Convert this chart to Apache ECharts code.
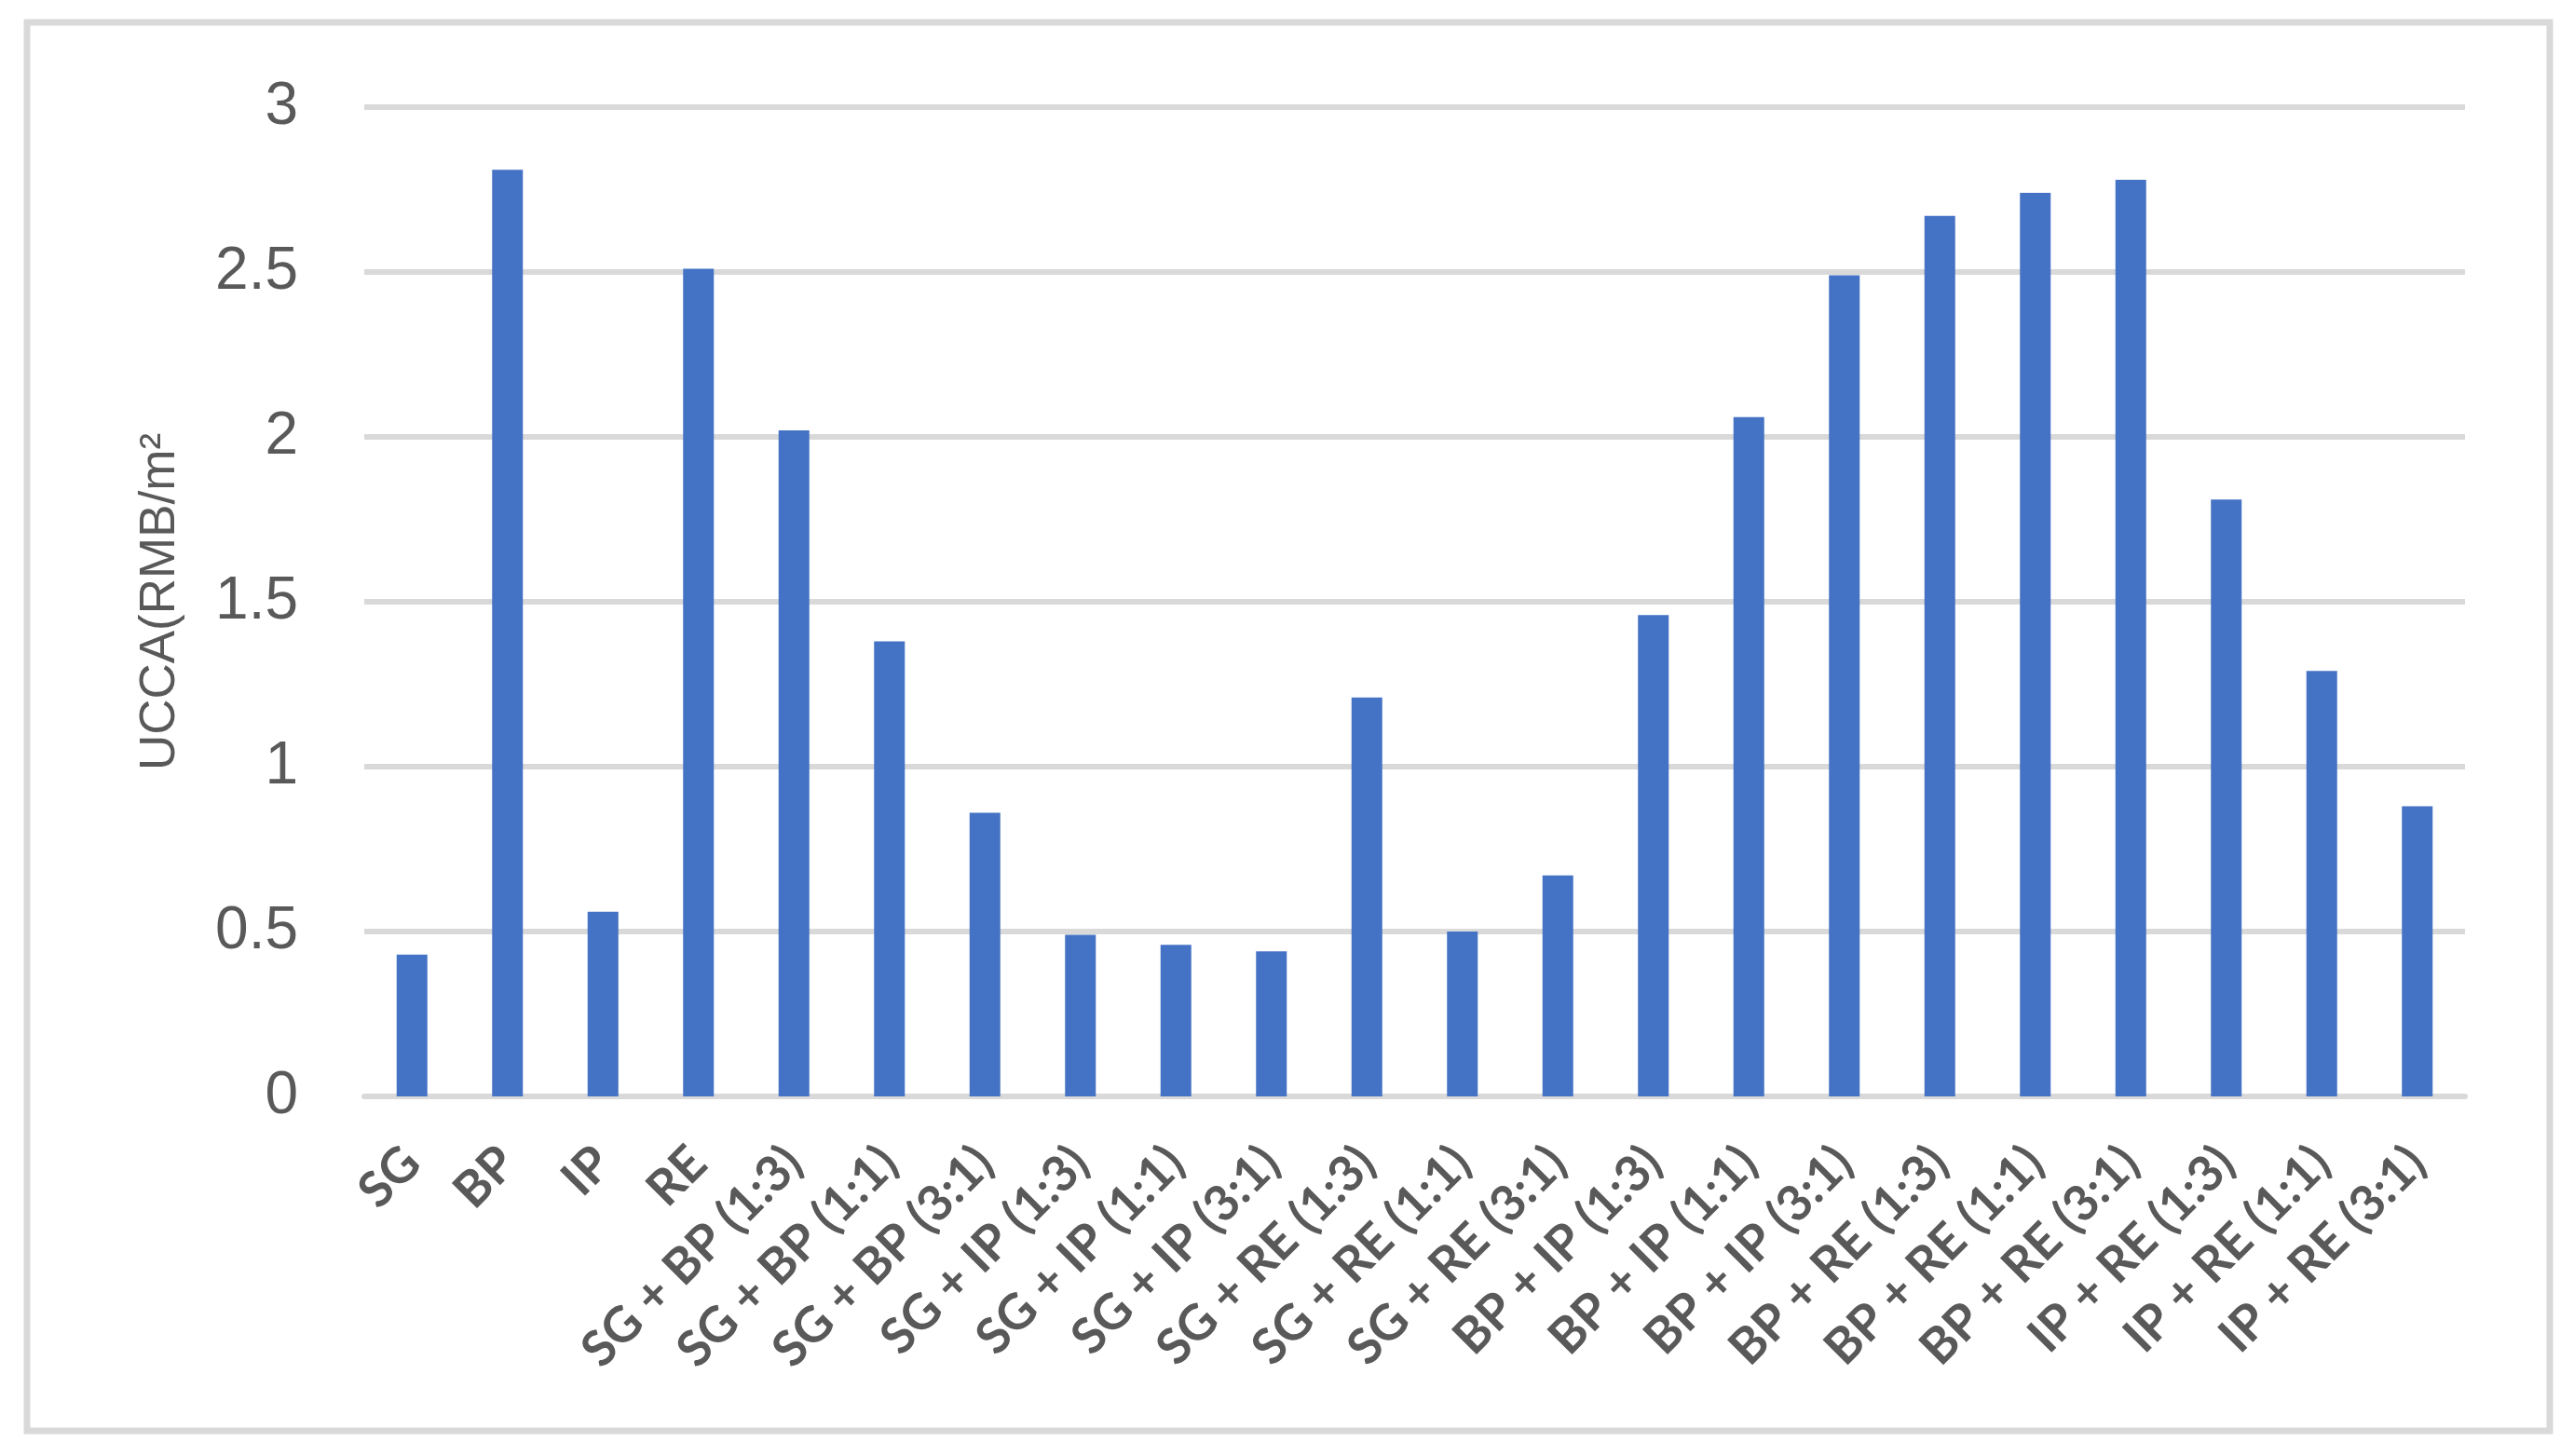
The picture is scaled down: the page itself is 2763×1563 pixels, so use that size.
<!DOCTYPE html>
<html>
<head>
<meta charset="utf-8">
<script src="https://cdn.jsdelivr.net/npm/echarts@6/dist/echarts.min.js"></script>
<style>
html,body{margin:0;padding:0;background:#fff;}
#chart{width:2763px;height:1563px;}
</style>
</head>
<body>
<div id="chart"></div>
<script>
const categories = ['SG','BP','IP','RE',
  'SG + BP (1:3)','SG + BP (1:1)','SG + BP (3:1)',
  'SG + IP (1:3)','SG + IP (1:1)','SG + IP (3:1)',
  'SG + RE (1:3)','SG + RE (1:1)','SG + RE (3:1)',
  'BP + IP (1:3)','BP + IP (1:1)','BP + IP (3:1)',
  'BP + RE (1:3)','BP + RE (1:1)','BP + RE (3:1)',
  'IP + RE (1:3)','IP + RE (1:1)','IP + RE (3:1)'];
const values = [0.43,2.81,0.56,2.51,
  2.02,1.38,0.86,
  0.49,0.46,0.44,
  1.21,0.50,0.67,
  1.46,2.06,2.49,
  2.67,2.74,2.78,
  1.81,1.29,0.88];
const yTicks = [0,0.5,1,1.5,2,2.5,3];
const yName = 'UCCA(RMB/m\u00B2';

const chart = echarts.init(document.getElementById('chart'));
chart.setOption({
  animation:false,
  backgroundColor:'#ffffff',
  graphic:[{
    type:'rect',
    shape:{x:29,y:24,width:2708,height:1512},
    style:{fill:'none',stroke:'#d9d9d9',lineWidth:7},
    silent:true
  }],
  grid:{left:391,right:117,top:115,bottom:386,containLabel:false},
  xAxis:{
    type:'category',
    data:categories,
    axisLine:{show:true,lineStyle:{color:'#d9d9d9',width:6}},
    axisTick:{show:false},
    axisLabel:{
      interval:0,rotate:45,margin:63,
      fontFamily:'Lato, Liberation Sans, Arial, sans-serif',
      fontSize:53,fontWeight:'bold',color:'#595959'
    }
  },
  yAxis:{
    type:'value',
    min:yTicks[0],max:yTicks[yTicks.length-1],interval:0.5,
    name:yName,
    nameLocation:'middle',
    nameGap:192,
    nameTextStyle:{fontFamily:'Liberation Sans, Arial, sans-serif',fontSize:53,color:'#595959'},
    axisLine:{show:false},
    axisTick:{show:false},
    splitLine:{show:true,lineStyle:{color:'#d9d9d9',width:6}},
    axisLabel:{
      margin:71,
      fontFamily:'Liberation Sans, Arial, sans-serif',
      fontSize:64,color:'#595959',
      formatter:function(v){return String(v);}
    }
  },
  series:[{
    type:'bar',
    data:values,
    barWidth:33,
    itemStyle:{color:'#4472c4'}
  }]
});
</script>
</body>
</html>
